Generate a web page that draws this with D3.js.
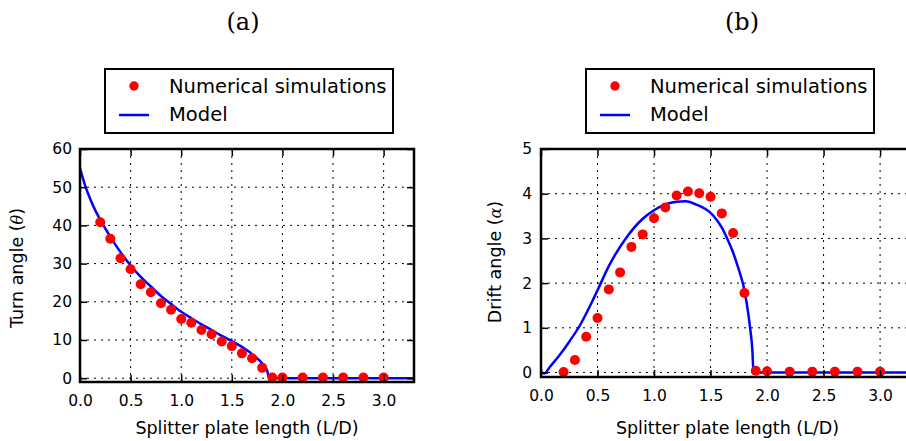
<!DOCTYPE html>
<html>
<head>
    <title>Turn angle and drift angle</title>
    <script src="https://d3js.org/d3.v7.min.js"></script>
    <style>
        body { margin: 0; background: white; }
        svg { display: block; }
        text { font-family: "DejaVu Sans", sans-serif; fill: #000; }
        .title { font-family: "DejaVu Serif", serif; font-size: 24px; }
        .tick-label { font-size: 15.5px; }
        .axis-label { font-size: 17.5px; }
        .legend-text { font-size: 19.5px; }
        .grid { stroke: #000; stroke-width: 1; stroke-dasharray: 2,5; }
    </style>
</head>
<body>

    <svg width="906" height="441"></svg>

    <script>

        // plate lengths where the simulations were run
        const simLength = [0.2, 0.3, 0.4, 0.5, 0.6, 0.7, 0.8, 0.9, 1.0, 1.1, 1.2, 1.3, 1.4,
                           1.5, 1.6, 1.7, 1.8, 1.9, 2.0, 2.2, 2.4, 2.6, 2.8, 3.0]

        // (a) turn angle, numerical simulations
        const turnSim = [40.8, 36.5, 31.4, 28.5, 24.6, 22.5, 19.6, 17.9, 15.5, 14.5, 12.6, 11.5, 9.6,
                         8.4, 6.5, 5.2, 2.7, 0.2, 0.2, 0.2, 0.2, 0.2, 0.2, 0.2]

        // (a) turn angle, model curve
        const turnModelLength = [0.0, 0.05, 0.1, 0.15, 0.2, 0.3, 0.4, 0.5, 0.6, 0.7, 0.8, 0.9, 1.0,
                                 1.1, 1.2, 1.3, 1.4, 1.5, 1.6, 1.65, 1.7, 1.75, 1.8, 1.83, 1.85, 1.87, 3.3]
        const turnModel = [55, 50.5, 47, 44, 41.5, 37, 33, 29.5, 26.5, 24, 21.5, 19.4, 17.4,
                           15.7, 14.1, 12.6, 11.1, 9.7, 8.2, 7.3, 6.3, 5.2, 3.9, 2.9, 1.9, 0, 0]

        // (b) drift angle, numerical simulations
        const driftSim = [0.01, 0.28, 0.8, 1.22, 1.86, 2.24, 2.81, 3.09, 3.45, 3.69, 3.96, 4.05, 4.01,
                          3.93, 3.56, 3.12, 1.78, 0.04, 0.03, 0.02, 0.02, 0.02, 0.02, 0.02]

        // (b) drift angle, model curve
        const driftModelLength = [0.0, 0.03, 0.08, 0.165, 0.25, 0.35, 0.43, 0.5, 0.6, 0.75, 0.9, 1.0,
                                  1.1, 1.2, 1.28, 1.38, 1.5, 1.55, 1.6, 1.65, 1.7, 1.75, 1.79, 1.82,
                                  1.85, 1.87, 1.88, 3.3]
        const driftModel = [0, -0.02, 0.13, 0.39, 0.69, 1.08, 1.47, 1.84, 2.38, 3.0, 3.44, 3.63,
                            3.76, 3.82, 3.83, 3.75, 3.57, 3.43, 3.24, 2.98, 2.68, 2.3, 1.95, 1.55,
                            1.0, 0.5, 0, 0]

        const xTicks = [0.0, 0.5, 1.0, 1.5, 2.0, 2.5, 3.0]
        const turnTicks = [0, 10, 20, 30, 40, 50, 60]
        const driftTicks = [0, 1, 2, 3, 4, 5]

        const svg = d3.select("svg")

        function drawPanel(p) {
            const g = svg.append("g")

            const x = d3.scaleLinear([0, 3.3], [p.left, p.right])
            const y = d3.scaleLinear(p.yDomain, [p.bottom, p.top])

            const clipId = "clip-" + p.name
            svg.append("clipPath").attr("id", clipId)
                .append("rect")
                .attr("x", p.left).attr("y", p.top)
                .attr("width", p.right - p.left).attr("height", p.bottom - p.top)

            // dotted grid
            g.selectAll(".gx").data(xTicks).enter().append("line")
                .attr("class", "grid")
                .attr("x1", d => x(d)).attr("x2", d => x(d))
                .attr("y1", p.top).attr("y2", p.bottom)
            g.selectAll(".gy").data(p.yTicks).enter().append("line")
                .attr("class", "grid")
                .attr("x1", p.left).attr("x2", p.right)
                .attr("y1", d => y(d)).attr("y2", d => y(d))

            // model line
            const line = d3.line()
                .x(d => x(d[0]))
                .y(d => y(d[1]))
                .curve(d3.curveMonotoneX)
            g.append("path")
                .datum(p.modelX.map((v, i) => [v, p.modelY[i]]))
                .attr("clip-path", "url(#" + clipId + ")")
                .attr("fill", "none")
                .attr("stroke", "#0000ff")
                .attr("stroke-width", 2.5)
                .attr("d", line)

            // simulation points
            g.selectAll(".dot").data(simLength.map((v, i) => [v, p.sim[i]])).enter()
                .append("circle")
                .attr("cx", d => x(d[0]))
                .attr("cy", d => y(d[1]))
                .attr("r", 5)
                .attr("fill", "#ff0000")

            // ticks pointing inward, on all four sides
            const tickLen = 7
            const axB = g.append("g").attr("transform", "translate(0," + p.bottom + ")")
                .call(d3.axisBottom(x).tickValues(xTicks).tickSize(-tickLen).tickPadding(13)
                    .tickFormat(d3.format(".1f")))
            const axT = g.append("g").attr("transform", "translate(0," + p.top + ")")
                .call(d3.axisTop(x).tickValues(xTicks).tickSize(-tickLen).tickFormat(""))
            const axL = g.append("g").attr("transform", "translate(" + p.left + ",0)")
                .call(d3.axisLeft(y).tickValues(p.yTicks).tickSize(-tickLen).tickPadding(p.yPad)
                    .tickFormat(d3.format("d")))
            const axR = g.append("g").attr("transform", "translate(" + p.right + ",0)")
                .call(d3.axisRight(y).tickValues(p.yTicks).tickSize(-tickLen).tickFormat(""))

            ;[axB, axT, axL, axR].forEach(a => {
                a.select(".domain").remove()
                a.selectAll(".tick line").attr("stroke", "#000").attr("stroke-width", 1.5)
                a.selectAll(".tick text")
                    .attr("class", "tick-label")
                    .attr("fill", "#000")
                    .style("font-family", "DejaVu Sans, sans-serif")
                    .attr("font-size", null)
            })

            // frame
            g.append("rect")
                .attr("x", p.left).attr("y", p.top)
                .attr("width", p.right - p.left).attr("height", p.bottom - p.top)
                .attr("fill", "none").attr("stroke", "#000").attr("stroke-width", 2.5)

            // axis labels
            g.append("text")
                .attr("class", "axis-label")
                .attr("x", (p.left + p.right) / 2).attr("y", 434)
                .attr("text-anchor", "middle")
                .text("Splitter plate length (L/D)")

            const yl = g.append("text")
                .attr("class", "axis-label")
                .attr("text-anchor", "middle")
                .attr("transform", "translate(" + p.yLabelX + "," + p.yLabelY + ") rotate(-90)")
            yl.append("tspan").text(p.yLabel + " (")
            yl.append("tspan").text(p.yLabelSymbol)
                .style("font-family", "DejaVu Serif, serif").style("font-style", "italic")
                .style("font-size", "16px")
            yl.append("tspan").text(")")

            // panel title
            g.append("text")
                .attr("class", "title")
                .attr("x", p.titleX).attr("y", 30)
                .attr("text-anchor", "middle")
                .text(p.title)

            // legend
            const lg = g.append("g").attr("transform", "translate(" + p.legendX + ",69)")
            lg.append("rect")
                .attr("width", 288).attr("height", 64)
                .attr("fill", "white").attr("stroke", "#000").attr("stroke-width", 2)
            lg.append("circle").attr("cx", 29).attr("cy", 17).attr("r", 4.7).attr("fill", "#ff0000")
            lg.append("line").attr("x1", 14).attr("x2", 44).attr("y1", 46).attr("y2", 46)
                .attr("stroke", "#0000ff").attr("stroke-width", 2.5)
            lg.append("text").attr("class", "legend-text").attr("x", 64).attr("y", 24)
                .text("Numerical simulations")
            lg.append("text").attr("class", "legend-text").attr("x", 64).attr("y", 51.5)
                .text("Model")
        }

        drawPanel({
            name: "a", title: "(a)", titleX: 243,
            left: 80, right: 414, top: 149, bottom: 382,
            yDomain: [-1, 60], yTicks: turnTicks, yPad: 8,
            sim: turnSim, modelX: turnModelLength, modelY: turnModel,
            yLabel: "Turn angle", yLabelSymbol: "θ", yLabelX: 23, yLabelY: 268,
            legendX: 105
        })

        drawPanel({
            name: "b", title: "(b)", titleX: 742,
            left: 541, right: 914, top: 149, bottom: 377,
            yDomain: [-0.1, 5], yTicks: driftTicks, yPad: 9,
            sim: driftSim, modelX: driftModelLength, modelY: driftModel,
            yLabel: "Drift angle", yLabelSymbol: "α", yLabelX: 501, yLabelY: 262,
            legendX: 586
        })

    </script>

</body>
</html>
